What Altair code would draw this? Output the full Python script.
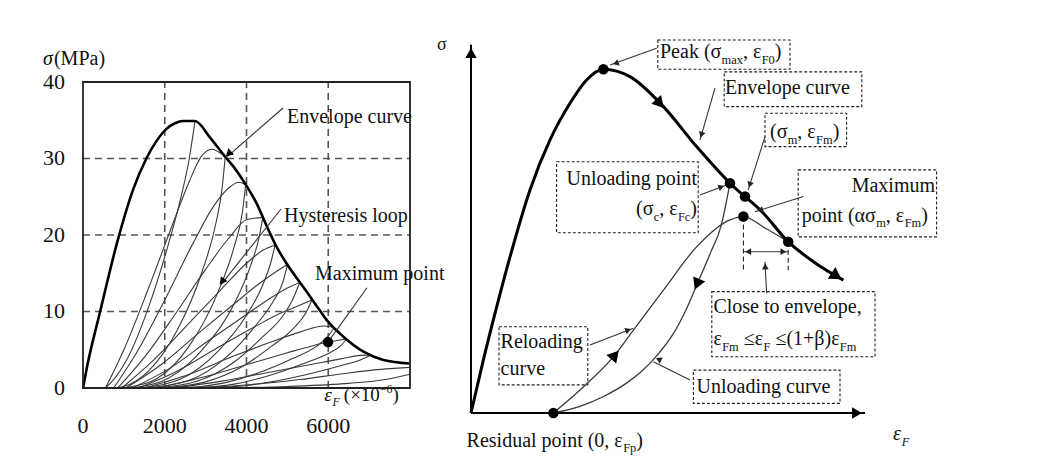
import altair as alt
import pandas as pd

FONT = "Liberation Serif"
INK = "#111111"
THIN = "#333333"

# ---------------- panel geometry (domains of the two panels) ----------------
L_XDOM = [-1835, 8000]
L_YDOM = [-8.76, 49.67]
R_XDOM = [0, 141]
R_YDOM = [-11.35, 109.46]
L_W, R_W, H = 402, 564, 447

# ---------------- LEFT PANEL DATA ----------------
FRAME_X = [0, 8000]
FRAME_Y = [0, 40]
GRID_X = [2000, 4000, 6000]
GRID_Y = [10, 20, 30]
X_TICKS = [0, 2000, 4000, 6000]
X_TICK_TEXT = ["0", "2000", "4000", "6000"]
Y_TICKS = [0, 10, 20, 30, 40]
Y_TICK_TEXT = ["0", "10", "20", "30", "40"]

ENV_X = [0, 100, 410, 864, 1230, 1550, 1800, 2050, 2250, 2450, 2740,
         3100, 3480, 3700, 3980, 4250, 4500, 4740, 4990, 5470, 5720, 5960, 6370, 6860, 7350, 8000]
ENV_Y = [0, 2.8, 9.8, 19.6, 26.0, 30.0, 32.3, 33.9, 34.6, 34.9, 34.9,
         32.8, 30.2, 28.8, 26.6, 24.1, 21.1, 18.4, 16.2, 12.6, 10.7, 8.9, 6.7, 4.75, 3.66, 3.2]

UNLOAD_X = [
    [2740, 2600, 2400, 2100, 1600, 1100, 700, 550],
    [3480, 3400, 3250, 2900, 2300, 1600, 1000, 750],
    [3980, 3900, 3700, 3300, 2600, 1800, 1100, 850],
    [4400, 4300, 4100, 3700, 3000, 2100, 1300, 950],
    [4700, 4600, 4400, 4000, 3300, 2400, 1500, 1050],
    [5000, 4900, 4650, 4200, 3500, 2600, 1700, 1200],
    [5300, 5150, 4900, 4400, 3700, 2800, 1900, 1350],
    [5600, 5450, 5150, 4600, 3900, 3000, 2100, 1500],
    [6150, 6000, 5700, 5100, 4300, 3400, 2500, 1800],
    [6450, 6300, 6000, 5400, 4600, 3700, 2800, 2200],
    [7050, 6800, 6300, 5500, 4600, 3600, 2600],
]
UNLOAD_Y = [
    [34.9, 30, 25, 19, 10.5, 4, 0.8, 0],
    [30.2, 26, 21.5, 15, 7.5, 2.2, 0.2, 0],
    [26.6, 23, 18.5, 12.5, 5.5, 1.2, 0.1, 0],
    [22.3, 19.5, 16, 11, 5.5, 1.3, 0.1, 0],
    [18.7, 16.5, 13.5, 9.5, 4.8, 1.2, 0.1, 0],
    [16.1, 14, 11.3, 8, 4, 1, 0.1, 0],
    [13.8, 11.8, 9.5, 6.7, 3.4, 0.9, 0.1, 0],
    [11.5, 9.8, 7.8, 5.4, 2.8, 0.8, 0.1, 0],
    [7.9, 6.8, 5.4, 3.8, 2.0, 0.6, 0.05, 0],
    [6.4, 5.5, 4.5, 3.2, 1.7, 0.5, 0.05, 0],
    [4.3, 3.7, 2.9, 1.8, 0.8, 0.15, 0],
]
RELOAD_X = [
    [550, 1000, 1600, 2200, 2600, 2900, 3150, 3480],
    [750, 1300, 2000, 2700, 3200, 3600, 3800, 3980],
    [850, 1500, 2300, 3000, 3600, 4000, 4400],
    [950, 1700, 2600, 3400, 4000, 4400, 4700],
    [1050, 1900, 2900, 3700, 4300, 4750, 5000],
    [1200, 2100, 3100, 4000, 4600, 5050, 5300],
    [1350, 2300, 3300, 4200, 4800, 5300, 5600],
    [1500, 2600, 3700, 4600, 5300, 5900, 6150],
    [1800, 3000, 4100, 5000, 5600, 5994, 6450],
    [2200, 3400, 4600, 5600, 6300, 6900, 7050],
    [2600, 4000, 5300, 6400, 7200, 7700, 8000],
    [3500, 5000, 6500, 7400, 8000],
]
RELOAD_Y = [
    [0, 5, 13, 21.5, 27, 30.3, 31.2, 30.2],
    [0, 4.5, 11.5, 19, 23.8, 26.3, 26.9, 26.6],
    [0, 4, 10, 15.5, 19.8, 22, 22.3],
    [0, 3.5, 8.5, 13, 16.3, 18, 18.7],
    [0, 3, 7.5, 11, 13.6, 15.3, 16.1],
    [0, 2.5, 6.3, 9.6, 11.8, 13.2, 13.8],
    [0, 2.2, 5.3, 8, 9.7, 10.8, 11.5],
    [0, 1.8, 4.2, 6, 7.3, 8.1, 7.9],
    [0, 1.5, 3.2, 4.6, 5.5, 6.0, 6.4],
    [0, 0.9, 2.1, 3.1, 3.8, 4.3, 4.3],
    [0, 0.4, 1.1, 1.9, 2.4, 2.6, 2.7],
    [0, 0.2, 0.6, 1.1, 1.8],
]

L_PTR_X = [4893, 4844, 6948]
L_PTR_Y = [36.6, 23.4, 13.1]
L_PTR_X2 = [3523, 3376, 5994]
L_PTR_Y2 = [30.2, 13.5, 6.0]
L_HEAD_X = [3560, 3400]
L_HEAD_Y = [30.6, 13.9]
L_HEAD_ANG = [138, 128]
L_DOT_X = [5994]
L_DOT_Y = [6.0]

# rich-text labels: (segments, x, y, align, size)
L_LABELS = [
    ([("σ", "i"), ("(MPa)", "n")], -980, 42.2, "left", 20),
    ([("Envelope curve", "n")], 4991, 34.6, "left", 20),
    ([("Hysteresis loop", "n")], 4917, 21.7, "left", 20),
    ([("Maximum point", "n")], 5676, 14.1, "left", 20),
    ([("ε", "i"), ("F", "bi"), (" (×10", "n"), ("−6", "p"), (")", "n")], 5900, -1.7, "left", 19),
]

# ---------------- RIGHT PANEL DATA (schematic units) ----------------
R_AXIS_X = [0, 0]
R_AXIS_Y = [0, 0]
R_AXIS_X2 = [0, 98.5]
R_AXIS_Y2 = [99.5, 0]

R_ENV_X = [0, 3.08, 6.42, 9.75, 14.75, 19.75, 24.75, 28.9, 33.1, 39.75, 48.1, 56.4, 64.75, 73.1, 79.3, 85.6, 93.1]
R_ENV_Y = [0, 14.3, 28.7, 42.2, 60.3, 73.8, 83.7, 90.0, 92.9, 90.9, 82.8, 72.0, 62.1, 54.0, 46.3, 40.9, 35.9]
R_UNL_X = [64.75, 62.5, 59.75, 56.6, 53.8, 50.5, 47.0, 43.0, 38.5, 33.0, 27.25, 20.6]
R_UNL_Y = [62.1, 50.5, 43.0, 35.0, 28.0, 21.3, 16.2, 11.6, 7.8, 4.4, 1.8, 0]
R_REL_X = [20.6, 27.25, 36.0, 40.6, 48.1, 56.4, 64.75, 68.1, 73.5, 79.3]
R_REL_Y = [0, 6.2, 15.7, 22.4, 33.2, 44.9, 52.2, 53.1, 50.0, 46.3]

R_PT_X = [33.1, 64.75, 68.5, 68.1, 79.3, 20.6]
R_PT_Y = [92.9, 62.1, 58.5, 53.1, 46.3, 0]

R_HEAD_X = [47.25, 91.4, 56.5, 36.0, 0, 96.5]
R_HEAD_Y = [83.6, 37.0, 34.8, 15.7, 97.3, 0]
R_HEAD_ANG = [48, 33, 113, 311, 270, 0]
R_HEAD_SIZE = [170, 190, 170, 170, 130, 130]

R_PTR_X = [46.4, 61, 73.5, 57.25, 83.1, 73.9, 29.75, 54.75, 68.1]
R_PTR_Y = [98.6, 87.8, 74.7, 58.9, 58.5, 32.4, 18.4, 8.9, 43.6]
R_PTR_X2 = [34.75, 57.25, 69.3, 63.9, 71, 73.5, 40.6, 45.6, 79.3]
R_PTR_Y2 = [94.05, 73.8, 60.3, 61.6, 54.4, 40.9, 22.9, 13.85, 43.6]
R_PHEAD_X = [36.2, 57.6, 69.7, 62.6, 72.3, 73.55, 39.3, 46.9, 69.3, 78.1]
R_PHEAD_Y = [94.5, 75.2, 61.7, 61.1, 54.8, 39.6, 22.4, 14.5, 43.6, 43.6]
R_PHEAD_ANG = [160, 106, 107, 340, 163, 267, 339, 206, 180, 0]

R_DASH_X = [68.1, 79.3]
R_DASH_Y = [53.1, 46.3]
R_DASH_Y2 = [38.6, 38.6]

BOX_X1 = [46.7, 63.3, 73.5, 21.4, 81.8, 60.2, 7.0, 55.6]
BOX_X2 = [79.75, 97.7, 93.9, 56.8, 116.4, 101, 29.2, 92.25]
BOX_Y1 = [100.8, 92.2, 81.0, 67.9, 65.7, 32.8, 23.3, 11.6]
BOX_Y2 = [92.9, 82.8, 72.0, 48.7, 47.6, 15.2, 7.6, 2.6]

R_LABELS = [
    ([("Peak (σ", "n"), ("max", "b"), (", ε", "n"), ("F0", "b"), (")", "n")], 47.25, 95.9, "left", 20),
    ([("Envelope curve", "n")], 63.5, 86.2, "left", 20),
    ([("(σ", "n"), ("m", "b"), (", ε", "n"), ("Fm", "b"), (")", "n")], 74.75, 74.2, "left", 20),
    ([("Unloading point", "n")], 56.5, 61.6, "right", 20),
    ([("(σ", "n"), ("c", "b"), (", ε", "n"), ("Fc", "b"), (")", "n")], 56.5, 53.5, "right", 20),
    ([("Maximum", "n")], 116, 59.8, "right", 20),
    ([("point (ασ", "n"), ("m", "b"), (", ε", "n"), ("Fm", "b"), (")", "n")], 82.7, 51.7, "left", 20),
    ([("Close to envelope,", "n")], 60.6, 26.9, "left", 20),
    ([("ε", "n"), ("Fm", "b"), (" ≤ε", "n"), ("F", "b"), (" ≤(1+β)ε", "n"), ("Fm", "b")], 60.6, 18.4, "left", 20),
    ([("Reloading", "n")], 7.4, 17.5, "left", 20),
    ([("curve", "n")], 7.4, 10.3, "left", 20),
    ([("Unloading curve", "n")], 56.4, 5.3, "left", 20),
    ([("Residual point (0, ε", "n"), ("Fp", "b"), (")", "n")], -1.1, -9.1, "left", 20),
    ([("σ", "n")], -8.5, 98.1, "left", 18),
    ([("ε", "i"), ("F", "bi")], 105.5, -7.3, "left", 20),
]

# ---------------- helpers ----------------
WID = {' ': .25, '(': .333, ')': .333, ',': .25, '.': .25, '+': .564, '×': .564, '−': .564, '≤': .549,
       'a': .444, 'b': .5, 'c': .444, 'd': .5, 'e': .444, 'f': .333, 'g': .5, 'h': .5, 'i': .278,
       'j': .278, 'k': .5, 'l': .278, 'm': .778, 'n': .5, 'o': .5, 'p': .5, 'q': .5, 'r': .333,
       's': .389, 't': .278, 'u': .5, 'v': .5, 'w': .722, 'x': .5, 'y': .5, 'z': .444,
       'C': .667, 'E': .611, 'F': .556, 'H': .722, 'M': .889, 'P': .556, 'R': .667, 'U': .722,
       'σ': .55, 'ε': .44, 'α': .53, 'β': .5}


def tw(t, size):
    return sum(WID.get(c, .5) for c in t) * size


def rich_rows(labels, xdom, ydom, wpx):
    upx = (xdom[1] - xdom[0]) / wpx
    upy = (ydom[1] - ydom[0]) / H
    rows = []
    for segs, x, y, align, size in labels:
        sizes = [size * 0.62 if k in ("b", "bi", "p") else size for _, k in segs]
        widths = [tw(t, s) for (t, _), s in zip(segs, sizes)]
        off = -sum(widths) if align == "right" else 0.0
        for (t, k), s, w in zip(segs, sizes, widths):
            dy = 0.28 * size if k in ("b", "bi") else (-0.42 * size if k == "p" else 0.0)
            lead = len(t) - len(t.lstrip(" "))
            shift = tw(t[:lead], s)
            rows.append(dict(x=x + (off + shift) * upx, y=y - dy * upy, text=t.lstrip(" "),
                             size=s, italic=k in ("i", "bi")))
            off += w
    return pd.DataFrame(rows)


def sc(dom):
    return alt.Scale(domain=dom, nice=False, zero=False)


def X(f, dom):
    return alt.X(f + ":Q", scale=sc(dom), axis=None)


def Y(f, dom):
    return alt.Y(f + ":Q", scale=sc(dom), axis=None)


def text_layers(df, xd, yd):
    out = []
    for it in (False, True):
        sub = df[df["italic"] == it]
        if len(sub) == 0:
            continue
        m = alt.Chart(sub).mark_text(align="left", baseline="alphabetic", font=FONT, color=INK,
                                     fontStyle="italic" if it else "normal")
        out.append(m.encode(x=X("x", xd), y=Y("y", yd), text="text:N",
                            size=alt.Size("size:Q", scale=None)))
    return out


# ---------------- LEFT PANEL ----------------
lx, ly = L_XDOM, L_YDOM
grid_v = alt.Chart(pd.DataFrame({"x": GRID_X, "y": FRAME_Y[0], "y2": FRAME_Y[1]})).mark_rule(
    color="#555555", strokeDash=[7, 5], strokeWidth=1.6).encode(x=X("x", lx), y=Y("y", ly), y2="y2:Q")
grid_h = alt.Chart(pd.DataFrame({"y": GRID_Y, "x": FRAME_X[0], "x2": FRAME_X[1]})).mark_rule(
    color="#555555", strokeDash=[7, 5], strokeWidth=1.6).encode(x=X("x", lx), x2="x2:Q", y=Y("y", ly))
frame = alt.Chart(pd.DataFrame({"x": [FRAME_X[0]], "x2": [FRAME_X[1]], "y": [FRAME_Y[0]], "y2": [FRAME_Y[1]]})).mark_rect(
    fillOpacity=0, stroke="#222222", strokeWidth=1.8).encode(x=X("x", lx), x2="x2:Q", y=Y("y", ly), y2="y2:Q")

loop_rows = []
for i, (xs, ys) in enumerate(zip(UNLOAD_X + RELOAD_X, UNLOAD_Y + RELOAD_Y)):
    for a, b in zip(xs, ys):
        loop_rows.append(dict(id=i, x=a, y=b))
loops = alt.Chart(pd.DataFrame(loop_rows)).mark_line(
    color="#3a3a3a", strokeWidth=1.1, interpolate="monotone").encode(
    x=X("x", lx), y=Y("y", ly), detail="id:N")
env = alt.Chart(pd.DataFrame({"x": ENV_X, "y": ENV_Y})).mark_line(
    color="#000000", strokeWidth=2.6, interpolate="monotone").encode(x=X("x", lx), y=Y("y", ly))
lptr = alt.Chart(pd.DataFrame({"x": L_PTR_X, "y": L_PTR_Y, "x2": L_PTR_X2, "y2": L_PTR_Y2})).mark_rule(
    color=THIN, strokeWidth=1.1).encode(x=X("x", lx), y=Y("y", ly), x2="x2:Q", y2="y2:Q")
lhead = alt.Chart(pd.DataFrame({"x": L_HEAD_X, "y": L_HEAD_Y, "a": L_HEAD_ANG})).mark_point(
    shape="triangle-right", filled=True, color="#000000", opacity=1, size=70).encode(
    x=X("x", lx), y=Y("y", ly), angle=alt.Angle("a:Q", scale=None))
ldot = alt.Chart(pd.DataFrame({"x": L_DOT_X, "y": L_DOT_Y})).mark_point(
    shape="circle", filled=True, color="#000000", opacity=1, size=110).encode(x=X("x", lx), y=Y("y", ly))
xt = alt.Chart(pd.DataFrame({"x": X_TICKS, "t": X_TICK_TEXT, "y": -5.0})).mark_text(
    font=FONT, fontSize=22, color=INK, baseline="middle", align="center").encode(
    x=X("x", lx), y=Y("y", ly), text="t:N")
yt = alt.Chart(pd.DataFrame({"y": Y_TICKS, "t": Y_TICK_TEXT, "x": -440})).mark_text(
    font=FONT, fontSize=22, color=INK, baseline="middle", align="right").encode(
    x=X("x", lx), y=Y("y", ly), text="t:N")

left = alt.layer(grid_v, grid_h, loops, env, frame, lptr, lhead, ldot, xt, yt,
                 *text_layers(rich_rows(L_LABELS, lx, ly, L_W), lx, ly)).properties(width=L_W, height=H)

# ---------------- RIGHT PANEL ----------------
rx, ry = R_XDOM, R_YDOM
raxis = alt.Chart(pd.DataFrame({"x": R_AXIS_X, "y": R_AXIS_Y, "x2": R_AXIS_X2, "y2": R_AXIS_Y2})).mark_rule(
    color="#000000", strokeWidth=2).encode(x=X("x", rx), y=Y("y", ry), x2="x2:Q", y2="y2:Q")
boxes = alt.Chart(pd.DataFrame({"x": BOX_X1, "x2": BOX_X2, "y": BOX_Y1, "y2": BOX_Y2})).mark_rect(
    fillOpacity=0, stroke="#222222", strokeWidth=1.1, strokeDash=[3, 2]).encode(
    x=X("x", rx), x2="x2:Q", y=Y("y", ry), y2="y2:Q")
rdash = alt.Chart(pd.DataFrame({"x": R_DASH_X, "y": R_DASH_Y, "y2": R_DASH_Y2})).mark_rule(
    color="#222222", strokeWidth=1.1, strokeDash=[5, 3]).encode(x=X("x", rx), y=Y("y", ry), y2="y2:Q")
rcurves = []
for xs, ys in ((R_UNL_X, R_UNL_Y), (R_REL_X, R_REL_Y)):
    rcurves.append(alt.Chart(pd.DataFrame({"x": xs, "y": ys})).mark_line(
        color="#3a3a3a", strokeWidth=1.3, interpolate="monotone").encode(x=X("x", rx), y=Y("y", ry)))
renv = alt.Chart(pd.DataFrame({"x": R_ENV_X, "y": R_ENV_Y})).mark_line(
    color="#000000", strokeWidth=3, interpolate="monotone").encode(x=X("x", rx), y=Y("y", ry))
rptr = alt.Chart(pd.DataFrame({"x": R_PTR_X, "y": R_PTR_Y, "x2": R_PTR_X2, "y2": R_PTR_Y2})).mark_rule(
    color=THIN, strokeWidth=1.1).encode(x=X("x", rx), y=Y("y", ry), x2="x2:Q", y2="y2:Q")
rphead = alt.Chart(pd.DataFrame({"x": R_PHEAD_X, "y": R_PHEAD_Y, "a": R_PHEAD_ANG})).mark_point(
    shape="triangle-right", filled=True, color="#222222", opacity=1, size=45).encode(
    x=X("x", rx), y=Y("y", ry), angle=alt.Angle("a:Q", scale=None))
rhead = alt.Chart(pd.DataFrame({"x": R_HEAD_X, "y": R_HEAD_Y, "a": R_HEAD_ANG, "s": R_HEAD_SIZE})).mark_point(
    shape="triangle-right", filled=True, color="#000000", opacity=1).encode(
    x=X("x", rx), y=Y("y", ry), angle=alt.Angle("a:Q", scale=None), size=alt.Size("s:Q", scale=None))
rpts = alt.Chart(pd.DataFrame({"x": R_PT_X, "y": R_PT_Y})).mark_point(
    shape="circle", filled=True, color="#000000", opacity=1, size=110).encode(x=X("x", rx), y=Y("y", ry))

right = alt.layer(raxis, boxes, rdash, *rcurves, renv, rptr, rphead, rhead, rpts,
                  *text_layers(rich_rows(R_LABELS, rx, ry, R_W), rx, ry)).properties(width=R_W, height=H)

chart = alt.hconcat(left, right, spacing=61, bounds="flush", padding=0,
                    background="white").configure_view(stroke=None)

chart.save("out.html", embed_options={"renderer": "svg", "actions": False})
